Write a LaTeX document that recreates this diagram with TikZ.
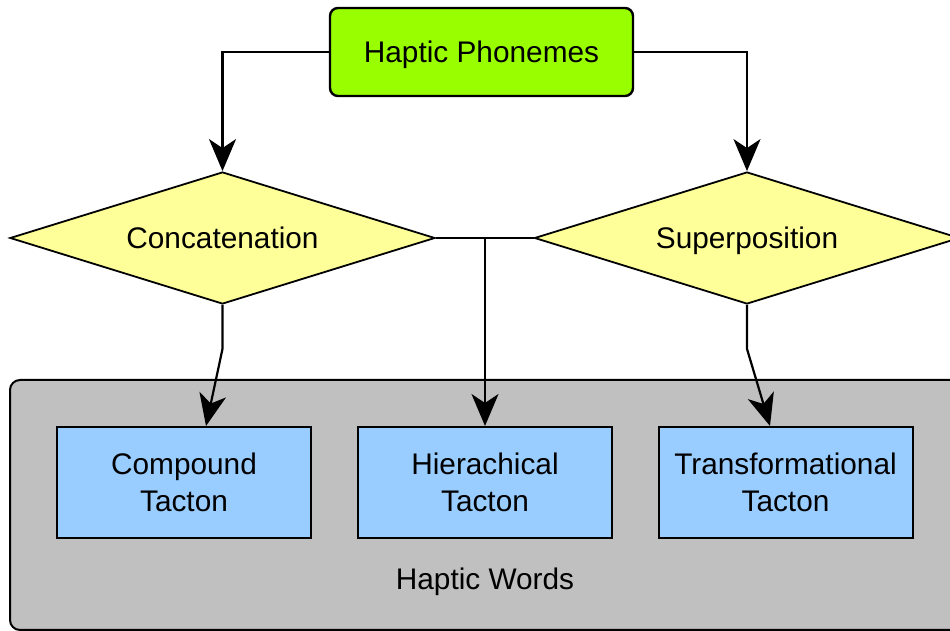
\documentclass[tikz,border=0pt]{standalone}
\usepackage{fontspec}
\setmainfont{Liberation Sans}
\usetikzlibrary{shapes.geometric,arrows.meta}
\definecolor{topgreen}{HTML}{99FF00}
\definecolor{diayellow}{HTML}{FFFF99}
\definecolor{boxblue}{HTML}{99CCFF}
\definecolor{contgray}{HTML}{C0C0C0}
\begin{document}
\begin{tikzpicture}[x=0.5pt,y=-0.5pt,
  every node/.style={font=\fontsize{14.9}{18.5}\selectfont, inner sep=0pt},
  oneline/.style={text height=10.6pt, text depth=0pt},
  topbox/.style={oneline, draw=black, line width=1.2pt, fill=topgreen, rounded corners=4pt,
    minimum width=151.5pt, minimum height=44pt},
  decision/.style={oneline, diamond, draw=black, line width=0.9pt, fill=diayellow,
    minimum width=212.5pt, minimum height=66pt, aspect=3.2},
  tacton/.style={draw=black, line width=1pt, fill=boxblue, align=center,
    minimum width=127pt, minimum height=55.5pt},
  container/.style={draw=black, line width=1pt, fill=contgray, rounded corners=5pt,
    minimum width=485pt, minimum height=125pt},
  conn/.style={draw=black, line width=1.1pt},
  arrow/.style={conn, -{Stealth[length=16pt,width=13.5pt,inset=4.5pt]}}
]
\useasboundingbox (0,0) rectangle (950,631);
\clip (0,0) rectangle (950,631);

\node[container] (words) at (495,505) {};
\node (wordslbl) at (485,582) {Haptic Words};

\node[topbox] (top) at (481.5,52) {Haptic Phonemes};
\node[decision] (cc) at (222.5,238) {Concatenation};
\node[decision] (sp) at (747,238) {Superposition};

\node[tacton] (comp) at (184,482.5) {Compound\\Tacton};
\node[tacton] (hier) at (485,482.5) {Hierachical\\Tacton};
\node[tacton] (trans) at (785.5,482.5) {Transformational\\Tacton};

\draw[arrow] (top.west) -| (cc.north);
\draw[arrow] (top.east) -| (sp.north);
\draw[conn] (cc.east) -- (sp.west);
\draw[arrow] (hier.north |- cc.east) -- (hier.north);
\draw[arrow] (cc.south) -- ++(0,44) -- ([xshift=11pt]comp.north);
\draw[arrow] (sp.south) -- ++(0,44) -- ([xshift=-7.75pt]trans.north);
\end{tikzpicture}
\end{document}
